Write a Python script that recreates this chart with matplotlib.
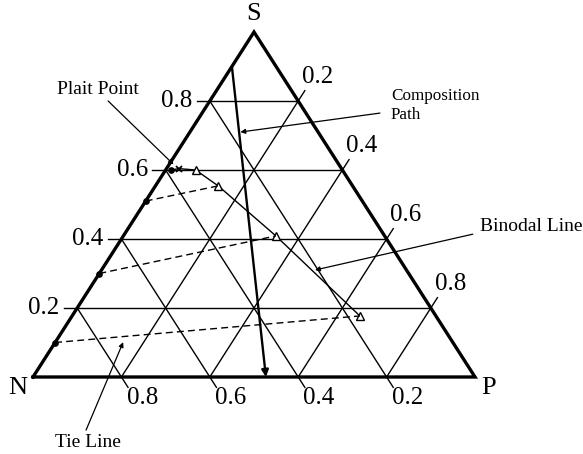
import numpy as np
import matplotlib.pyplot as plt

plt.rcParams['font.family'] = ['Liberation Serif', 'DejaVu Serif']

# ternary compositions (p = P fraction, s = S fraction, n = 1 - p - s)
ticks = [0.2, 0.4, 0.6, 0.8]
tick_labels = ['0.2', '0.4', '0.6', '0.8']

# extract phase (on N-S side) and raffinate phase points
extract_p = [0.012, 0.0, 0.0, 0.0]
extract_s = [0.60, 0.51, 0.30, 0.10]
raff_p = [0.068, 0.142, 0.345, 0.651]
raff_s = [0.600, 0.554, 0.409, 0.177]
plait_p, plait_s = 0.028, 0.604

# tie lines: extract index -> raffinate index
ties = [(1, 1), (2, 2), (3, 3)]

# composition path
path_p = [0.0, 0.527]
path_s = [0.90, 0.0]


def xy(p, s):
    p = np.asarray(p, float)
    s = np.asarray(s, float)
    return p + s / 2, s


fig = plt.figure(figsize=(5.83, 4.54), dpi=100)
ax = fig.add_axes([0, 0, 1, 1])
ax.set_xlim(-33 / 442, 550 / 442)
ax.set_ylim(-77 / 345, 1 + 32 / 345)
ax.axis('off')

thin = dict(color='black', lw=1.0)
ext = 0.03
fs_tick = 18

# grid lines with tick stubs
for t, lab in zip(ticks, tick_labels):
    # constant S (horizontal)
    x0, y0 = xy(-ext, t)
    x1, y1 = xy(1 - t, t)
    ax.plot([x0, x1], [y0, y1], **thin)
    ax.annotate(lab, xy(0, t), xytext=(-24, 0), textcoords='offset points',
                ha='center', va='center', fontsize=fs_tick)
    # constant N (parallel to S-P side)
    n = t
    x0, y0 = xy(0, 1 - n)
    x1, y1 = xy(1 - n + ext, -ext)
    ax.plot([x0, x1], [y0, y1], **thin)
    ax.annotate(lab, xy(1 - n, 0), xytext=(15, -15), textcoords='offset points',
                ha='center', va='center', fontsize=fs_tick)
    # constant P (parallel to N-S side)
    x0, y0 = xy(t, 0)
    x1, y1 = xy(t, 1 - t + ext)
    ax.plot([x0, x1], [y0, y1], **thin)
    ax.annotate(lab, xy(t, 1 - t), xytext=(14, 17), textcoords='offset points',
                ha='center', va='center', fontsize=fs_tick)

# triangle border
tx, ty = xy([0, 1, 0, 0], [0, 0, 1, 0])
ax.plot(tx, ty, color='black', lw=2.4, solid_joinstyle='miter')

ax.annotate('N', xy(0, 0), xytext=(-11, -8), textcoords='offset points',
            ha='center', va='center', fontsize=19)
ax.annotate('P', xy(1, 0), xytext=(10, -8), textcoords='offset points',
            ha='center', va='center', fontsize=19)
ax.annotate('S', xy(0, 1), xytext=(0, 13), textcoords='offset points',
            ha='center', va='center', fontsize=19)

# binodal curve
bp = [extract_p[0], plait_p] + raff_p
bs = [extract_s[0], plait_s] + raff_s
bx, by = xy(bp, bs)
ax.plot(bx, by, color='black', lw=1.0)

ex, ey = xy(extract_p, extract_s)
ax.plot(ex, ey, 'o', color='black', ms=3.8)
rx, ry = xy(raff_p, raff_s)
ax.plot(rx, ry, '^', mfc='white', mec='black', ms=5.5, mew=1.0)
px_, py_ = xy(plait_p, plait_s)
ax.plot(px_, py_, 'x', color='black', ms=5, mew=1.3)

# tie lines
for i, j in ties:
    ax.plot([ex[i], rx[j]], [ey[i], ry[j]], color='black', lw=1.0,
            dashes=(5, 3))

# composition path
cx, cy = xy(path_p, path_s)
ax.annotate('', xy=(cx[1], cy[1]), xytext=(cx[0], cy[0]),
            arrowprops=dict(arrowstyle='-|>', color='black', lw=1.7,
                            mutation_scale=10, shrinkA=0, shrinkB=0))

# labels with pointer arrows
arrow = dict(arrowstyle='-|>', color='black', lw=0.9, mutation_scale=7,
             shrinkA=0, shrinkB=0)

ax.text(0.147, 0.832, 'Plait Point', ha='center', va='center', fontsize=14)
ax.annotate('', xy=(px_ - 0.012, py_ + 0.012), xytext=(0.170, 0.800),
            arrowprops=arrow)

ax.text(0.810, 0.788, 'Composition\nPath', ha='left', va='center',
        fontsize=12.3, linespacing=1.25)
k = (0.90 - 0.71) / 0.90
ax.annotate('', xy=(cx[0] + k * (cx[1] - cx[0]) + 0.003, 0.71),
            xytext=(0.785, 0.765), arrowprops=arrow)

ax.text(1.011, 0.435, 'Binodal Line', ha='left', va='center', fontsize=14)
ax.annotate('', xy=(0.638, 0.310), xytext=(0.995, 0.414), arrowprops=arrow)

ax.text(0.124, -0.191, 'Tie Line', ha='center', va='center', fontsize=14)
ax.annotate('', xy=(0.204, 0.101), xytext=(0.120, -0.154), arrowprops=arrow)

fig.savefig('out.png', dpi=100, facecolor='white')
